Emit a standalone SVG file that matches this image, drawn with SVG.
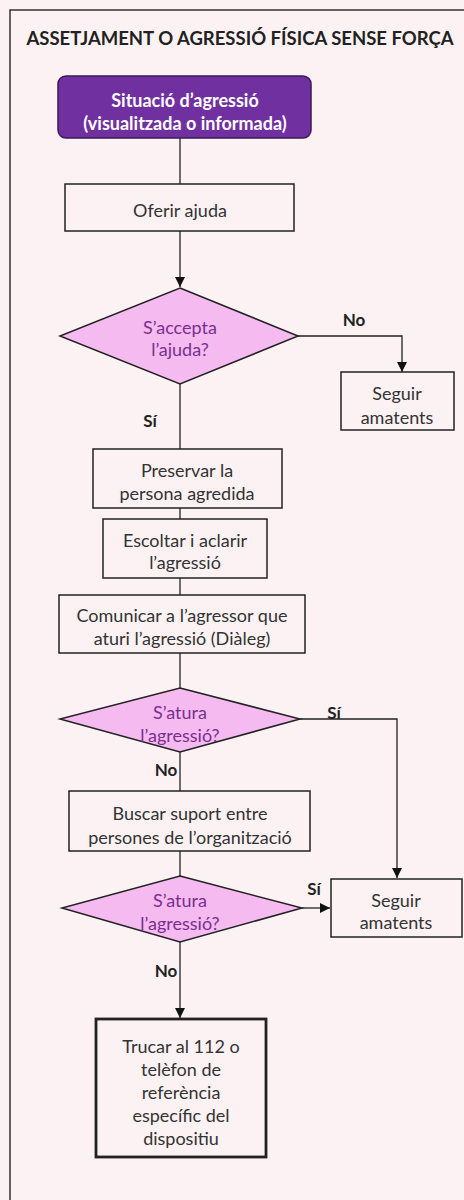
<svg xmlns="http://www.w3.org/2000/svg" width="464" height="1200" viewBox="0 0 464 1200">
<defs>
<marker id="arr" viewBox="0 0 10 10" refX="10" refY="5" markerWidth="10" markerHeight="10" markerUnits="userSpaceOnUse" orient="auto">
<path d="M0,0 L10,5 L0,10 Z" fill="#111"/>
</marker>
<style>
.box{fill:#fcf2f3;stroke:#222;stroke-width:1.5}
.dia{fill:#f5baf0;stroke:#222;stroke-width:1.5}
.t{font-family:Lato,"Liberation Sans",sans-serif;font-size:18px;fill:#333;text-anchor:middle;dominant-baseline:central}
.dt{fill:#7a2f8e}
.w{fill:#fff;font-weight:bold}
.lbl{font-family:Lato,"Liberation Sans",sans-serif;font-size:17px;font-weight:bold;fill:#222;text-anchor:middle;dominant-baseline:central}
.c{fill:none;stroke:#222;stroke-width:1.3}
</style>
</defs>
<rect width="464" height="1200" fill="#fcf2f3"/>
<path d="M10,1200 V10 H464" fill="none" stroke="#333" stroke-width="1.5"/>
<text x="240" y="38" font-family="Lato,'Liberation Sans',sans-serif" font-size="18.5" font-weight="bold" fill="#222" text-anchor="middle" dominant-baseline="central">ASSETJAMENT O AGRESSIÓ FÍSICA SENSE FORÇA</text>

<g id="connectors">
<path class="c" d="M180,138 V184"/>
<path class="c" d="M180,231 V287" marker-end="url(#arr)"/>
<path class="c" d="M298,336 H402 V372" marker-end="url(#arr)"/>
<path class="c" d="M180,384 V449"/>
<path class="c" d="M180,508 V519"/>
<path class="c" d="M180,578 V595"/>
<path class="c" d="M180,653 V688"/>
<path class="c" d="M300,719 H397 V878" marker-end="url(#arr)"/>
<path class="c" d="M180,752 V791"/>
<path class="c" d="M180,851 V876"/>
<path class="c" d="M302,908 H330" marker-end="url(#arr)"/>
<path class="c" d="M180,942 V1018" marker-end="url(#arr)"/>
<text class="lbl" x="354" y="319">No</text>
<text class="lbl" x="150" y="420">Sí</text>
<text class="lbl" x="334" y="712">Sí</text>
<text class="lbl" x="166" y="769">No</text>
<text class="lbl" x="314" y="888">Sí</text>
<text class="lbl" x="166" y="970">No</text>
</g>

<g id="start">
<rect x="58" y="76" width="253" height="62" rx="8" fill="#7030a0" stroke="#3a1a55" stroke-width="1.5"/>
<text class="t w" x="185" y="100">Situació d’agressió</text>
<text class="t w" x="185" y="123">(visualitzada o informada)</text>
</g>

<g id="oferir">
<rect class="box" x="65" y="184" width="229" height="47"/>
<text class="t" x="180" y="210">Oferir ajuda</text>
</g>

<g id="dec1">
<polygon class="dia" points="180,288 298,336 180,384 60,336"/>
<text class="t dt" x="180" y="327">S’accepta</text>
<text class="t dt" x="180" y="349">l’ajuda?</text>
</g>

<g id="seguir1">
<rect class="box" x="341" y="372" width="113" height="58"/>
<text class="t" x="397" y="393">Seguir</text>
<text class="t" x="397" y="417">amatents</text>
</g>

<g id="preservar">
<rect class="box" x="93" y="449" width="189" height="59"/>
<text class="t" x="187" y="470">Preservar la</text>
<text class="t" x="187" y="493">persona agredida</text>
</g>

<g id="escoltar">
<rect class="box" x="103" y="519" width="164" height="59"/>
<text class="t" x="185" y="540">Escoltar i aclarir</text>
<text class="t" x="185" y="562">l’agressió</text>
</g>

<g id="comunicar">
<rect class="box" x="59" y="595" width="246" height="58"/>
<text class="t" x="182" y="615">Comunicar a l’agressor que</text>
<text class="t" x="182" y="638">aturi l’agressió (Diàleg)</text>
</g>

<g id="dec2">
<polygon class="dia" points="180,688 300,719 180,752 60,719"/>
<text class="t dt" x="180" y="712">S’atura</text>
<text class="t dt" x="180" y="735">l’agressió?</text>
</g>

<g id="buscar">
<rect class="box" x="69" y="791" width="241" height="60"/>
<text class="t" x="190" y="813">Buscar suport entre</text>
<text class="t" x="190" y="837">persones de l’organització</text>
</g>

<g id="dec3">
<polygon class="dia" points="180,876 302,908 180,942 62,908"/>
<text class="t dt" x="180" y="900">S’atura</text>
<text class="t dt" x="180" y="923">l’agressió?</text>
</g>

<g id="seguir2">
<rect class="box" x="331" y="879" width="131" height="58"/>
<text class="t" x="396" y="900">Seguir</text>
<text class="t" x="396" y="922">amatents</text>
</g>

<g id="trucar">
<rect class="box" x="96" y="1019" width="170" height="138" style="stroke-width:2.8"/>
<text class="t" x="181" y="1046">Trucar al 112 o</text>
<text class="t" x="181" y="1069">telèfon de</text>
<text class="t" x="181" y="1092">referència</text>
<text class="t" x="181" y="1115">específic del</text>
<text class="t" x="181" y="1138">dispositiu</text>
</g>
</svg>
